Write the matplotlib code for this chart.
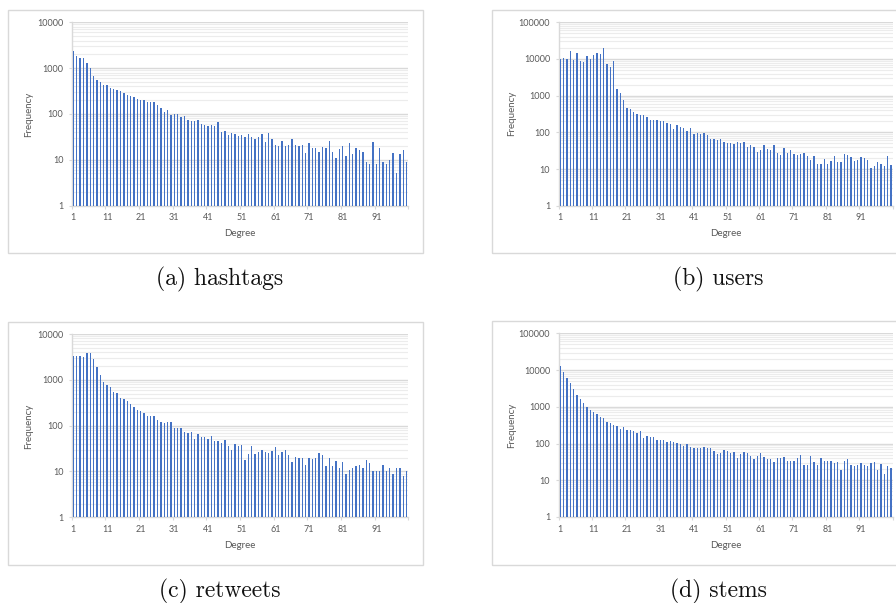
import matplotlib
matplotlib.use("Agg")
import matplotlib.pyplot as plt
from matplotlib.patches import Rectangle
from matplotlib.ticker import FixedLocator, NullFormatter, LogLocator

# Degree categories 1..100
degrees = list(range(1, 101))

hashtags_freq = [
    2355, 1830, 1660, 1660, 1290, 985, 670, 538, 495, 426,
    420, 360, 343, 326, 310, 290, 257, 249, 233, 207,
    200, 200, 181, 180, 180, 156, 132, 108, 119, 97,
    102, 101, 85, 92, 74, 71, 71, 72, 60, 57,
    54, 58, 55, 65, 41, 43, 34, 39, 36, 33,
    35, 31, 37, 31, 28, 31, 36, 24, 38, 28,
    21, 20, 26, 20, 21, 28, 21, 20, 21, 14,
    23, 18, 18, 15, 19, 18, 25, 15, 11, 17,
    20, 12, 23, 13, 18, 16, 15, 9, 8, 24,
    8, 18, 9, 8, 10, 14, 5, 13, 16, 9,
]

users_freq = [
    10200, 10400, 10000, 16500, 9200, 14300, 8800, 8300, 12300, 10200,
    12900, 14600, 13700, 20400, 7300, 6200, 8800, 1490, 1160, 780,
    461, 424, 351, 316, 297, 297, 262, 212, 212, 212,
    204, 204, 176, 170, 125, 158, 137, 129, 109, 129,
    88, 94, 88, 94, 85, 67, 67, 62, 67, 54,
    52, 52, 48, 54, 52, 54, 39, 45, 39, 30,
    32, 44, 35, 32, 44, 27, 24, 37, 28, 33,
    26, 24, 26, 27, 22, 18, 23, 14, 14, 19,
    14, 17, 23, 16, 16, 26, 24, 21, 17, 18,
    21, 20, 18, 11, 12, 16, 14, 12, 22, 13,
]

retweets_freq = [
    3310, 3310, 3260, 3150, 3850, 3850, 2900, 1905, 1270, 882,
    760, 710, 543, 508, 395, 376, 340, 297, 255, 220,
    212, 186, 165, 162, 162, 133, 118, 114, 120, 118,
    89, 89, 89, 72, 69, 72, 50, 66, 56, 56,
    50, 58, 46, 46, 42, 49, 36, 30, 40, 36,
    37, 17.5, 24.5, 36, 24.5, 27, 29, 27, 25, 28.5,
    35, 23, 27, 29, 23, 16, 21, 20, 20, 14,
    20, 19, 20, 25, 23, 13, 20, 13, 17, 12,
    16, 9, 11, 12, 13, 14, 12, 17.5, 15, 10,
    10, 10, 14, 10, 12, 9, 12, 12, 8, 10,
]

stems_freq = [
    12900, 8670, 6080, 4360, 3050, 2140, 1630, 1300, 990, 818,
    707, 650, 528, 496, 386, 362, 320, 300, 254, 276,
    234, 234, 219, 198, 215, 144, 157, 154, 151, 125,
    122, 125, 108, 115, 111, 102, 95, 88, 97, 81,
    76, 76, 76, 79, 77, 76, 63, 51, 54, 68,
    63, 54, 59, 41, 52, 60, 54, 45, 39, 47,
    55, 44, 37, 39, 32, 41, 40, 44, 34, 34,
    34, 41, 48, 26, 26, 45, 31, 26, 40, 34,
    34, 34, 30, 31, 19, 34, 39, 26, 25, 26,
    30, 26, 24, 30, 31, 19, 28, 15, 24, 21,
]

x_tick_labels = ["1", "11", "21", "31", "41", "51", "61", "71", "81", "91"]
y_ticks_4 = [1, 10, 100, 1000, 10000]
y_tick_labels_4 = ["1", "10", "100", "1000", "10000"]
y_ticks_5 = [1, 10, 100, 1000, 10000, 100000]
y_tick_labels_5 = ["1", "10", "100", "1000", "10000", "100000"]

captions = ["(a) hashtags", "(b) users", "(c) retweets", "(d) stems"]

W, H = 896, 603
BAR = "#4472C4"
TXT = "#595959"
GRID_MAJ = "#d9d9d9"
GRID_MIN = "#ececec"
FRAME = "#d9d9d9"
UI_FONT = ["Lato", "DejaVu Sans"]

fig = plt.figure(figsize=(W / 100, H / 100), dpi=100)


def px_rect(x0, y0, x1, y1):
    """Pixel box measured from the top-left corner -> figure fractions."""
    return [x0 / W, 1 - y1 / H, (x1 - x0) / W, (y1 - y0) / H]


def fig_xy(x, y):
    return x / W, 1 - y / H


panels = [
    dict(values=hashtags_freq, yt=y_ticks_4, ytl=y_tick_labels_4,
         frame=(8.3, 10, 423.3, 253.3), box=(71.7, 22.3, 408.3, 205.5),
         ylab=(29, 114), xlab=(240, 234), cap=(220, 279)),
    dict(values=users_freq, yt=y_ticks_5, ytl=y_tick_labels_5,
         frame=(491.7, 10, 960, 253.3), box=(558.5, 22.3, 892.7, 205.7),
         ylab=(512, 113), xlab=(726, 234), cap=(718, 279)),
    dict(values=retweets_freq, yt=y_ticks_4, ytl=y_tick_labels_4,
         frame=(8.3, 322.3, 423.3, 565.3), box=(71.7, 334.0, 408.3, 517.3),
         ylab=(29, 426), xlab=(240, 546), cap=(220, 591)),
    dict(values=stems_freq, yt=y_ticks_5, ytl=y_tick_labels_5,
         frame=(491.7, 321.3, 960, 565.3), box=(558.5, 333.3, 892.7, 517.0),
         ylab=(512, 425), xlab=(726, 546), cap=(718, 591)),
]

for p, cap in zip(panels, captions):
    # chart-area border
    x0, y0, x1, y1 = p["frame"]
    fx, fy = fig_xy(x0, y1)
    fig.patches.append(Rectangle((fx, fy), (x1 - x0) / W, (y1 - y0) / H,
                                 transform=fig.transFigure, fill=False,
                                 edgecolor=FRAME, linewidth=1.0))

    ax = fig.add_axes(px_rect(*p["box"]))
    ax.set_yscale("log")
    ax.set_ylim(p["yt"][0], p["yt"][-1])
    ax.set_xlim(0.5, 100.5)

    ax.bar(degrees, p["values"], width=0.4, color=BAR, zorder=3)

    # gridlines
    ax.yaxis.set_major_locator(FixedLocator(p["yt"]))
    ax.yaxis.set_minor_locator(LogLocator(base=10, subs=range(2, 10)))
    ax.yaxis.set_minor_formatter(NullFormatter())
    ax.set_yticklabels(p["ytl"], fontsize=6.5, color=TXT, family=UI_FONT)
    ax.grid(axis="y", which="major", color=GRID_MAJ, linewidth=1.0, zorder=0)
    ax.grid(axis="y", which="minor", color=GRID_MIN, linewidth=0.8, zorder=0)
    ax.tick_params(axis="y", which="major", length=2.5, width=0.8,
                   color=GRID_MAJ, pad=3.5)
    ax.tick_params(axis="y", which="minor", length=0)

    # category axis: tick marks on category boundaries, labels centred
    ax.xaxis.set_major_locator(FixedLocator([0.5 + 10 * i for i in range(11)]))
    ax.xaxis.set_major_formatter(NullFormatter())
    ax.xaxis.set_minor_locator(FixedLocator([int(t) for t in x_tick_labels]))
    ax.set_xticklabels(x_tick_labels, minor=True, fontsize=6.5, color=TXT,
                       family=UI_FONT)
    ax.tick_params(axis="x", which="major", length=2.5, width=0.8,
                   color=GRID_MAJ)
    ax.tick_params(axis="x", which="minor", length=0, pad=5.5)

    for side in ("top", "right"):
        ax.spines[side].set_visible(False)
    for side in ("left", "bottom"):
        ax.spines[side].set_color(GRID_MAJ)
        ax.spines[side].set_linewidth(1.0)
    ax.set_facecolor("none")

    fig.text(*fig_xy(*p["ylab"]), "Frequency", rotation=90, ha="center",
             va="center", fontsize=7, color=TXT, family=UI_FONT)
    fig.text(*fig_xy(*p["xlab"]), "Degree", ha="center", va="center",
             fontsize=7, color=TXT, family=UI_FONT)
    fig.text(*fig_xy(*p["cap"]), cap, ha="center", va="center",
             fontsize=17, color="#111111", family=["cmr10", "DejaVu Serif"])

fig.savefig("out.png", dpi=100)
